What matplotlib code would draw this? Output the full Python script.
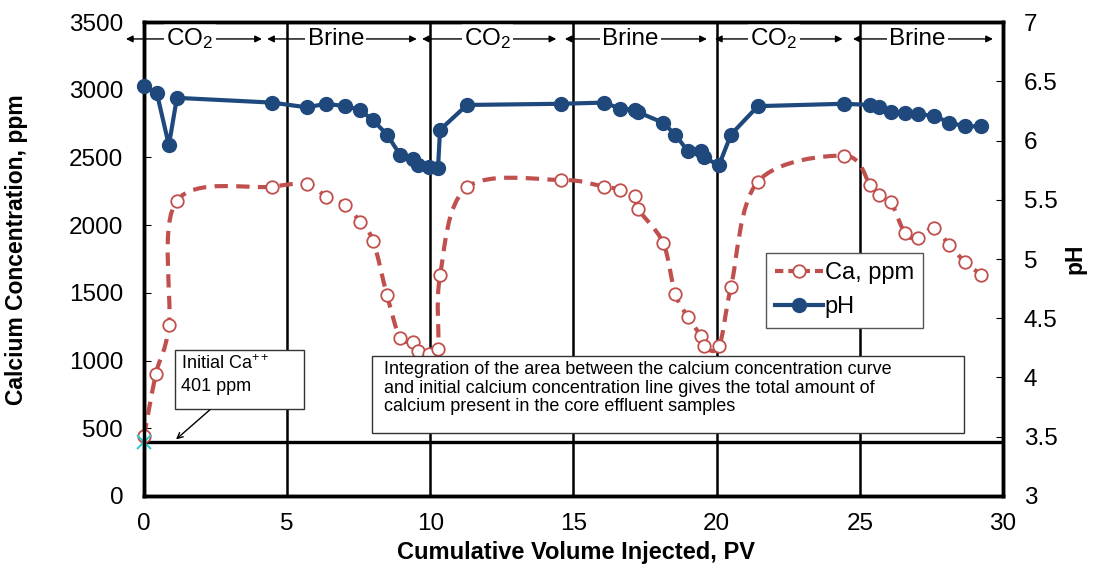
import matplotlib
matplotlib.use("Agg")
import matplotlib.pyplot as plt
import numpy as np
from matplotlib.lines import Line2D
from matplotlib.patches import PathPatch, Rectangle
from matplotlib.path import Path

plt.rcParams["font.family"] = ["Liberation Sans", "DejaVu Sans"]
plt.rcParams["mathtext.fontset"] = "custom"
plt.rcParams["mathtext.rm"] = "Liberation Sans"
plt.rcParams["mathtext.it"] = "Liberation Sans"

RED = "#C0504D"
BLUE = "#1F497D"

# Calcium concentration (ppm) vs cumulative volume injected (PV)
ca_pv = [0.0, 0.42, 0.87, 1.15, 4.47, 5.69, 6.36, 7.02, 7.54, 8.0, 8.49, 8.94,
         9.39, 9.57, 9.95, 10.27, 10.34, 11.28, 14.57, 16.07, 16.63, 17.15, 17.25,
         18.13, 18.55, 19.0, 19.45, 19.55, 20.08, 20.5, 21.44, 24.45, 25.36, 25.67,
         26.09, 26.58, 27.03, 27.59, 28.12, 28.68, 29.23]
ca_ppm = [442, 904, 1260, 2181, 2284, 2304, 2211, 2152, 2026, 1886, 1481, 1170,
          1137, 1069, 1052, 1085, 1629, 2279, 2334, 2284, 2262, 2218, 2120,
          1870, 1494, 1321, 1179, 1105, 1105, 1542, 2321, 2513, 2299, 2223,
          2169, 1940, 1906, 1977, 1855, 1727, 1634]

# pH vs cumulative volume injected (PV)
ph_pv = [0.0, 0.45, 0.87, 1.15, 4.47, 5.69, 6.36, 7.02, 7.54, 8.0, 8.49, 8.94,
         9.39, 9.57, 9.95, 10.27, 10.34, 11.28, 14.57, 16.07, 16.63, 17.15, 17.25,
         18.13, 18.55, 19.0, 19.45, 19.55, 20.08, 20.5, 21.44, 24.45, 25.36, 25.67,
         26.09, 26.58, 27.03, 27.59, 28.12, 28.68, 29.23]
ph_val = [6.46, 6.40, 5.96, 6.36, 6.32, 6.28, 6.31, 6.29, 6.26, 6.17, 6.05, 5.88,
          5.84, 5.79, 5.78, 5.77, 6.09, 6.30, 6.31, 6.32, 6.27, 6.26, 6.24,
          6.15, 6.05, 5.91, 5.91, 5.86, 5.79, 6.05, 6.29, 6.31, 6.30, 6.28,
          6.24, 6.23, 6.22, 6.21, 6.15, 6.12, 6.12]

initial_ca = 401
phase_bounds = [5, 10, 15, 20, 25]
phase_labels = ["CO$_2$", "Brine", "CO$_2$", "Brine", "CO$_2$", "Brine"]
phase_text_x = [1.6, 6.7, 12.0, 17.0, 22.0, 27.0]
phase_arrows = [(-0.63, 4.12), (4.3, 9.53), (9.71, 14.4), (14.7, 19.66),
                (19.94, 24.4), (24.76, 29.65)]


def smooth_path(x, y):
    # Excel-like smoothed line drawn as cubic bezier segments
    pts = np.column_stack([x, y]).astype(float)
    verts = [pts[0]]
    codes = [Path.MOVETO]
    n = len(pts)
    for i in range(n - 1):
        p0 = pts[i - 1] if i > 0 else pts[i]
        p1 = pts[i]
        p2 = pts[i + 1]
        p3 = pts[i + 2] if i + 2 < n else pts[i + 1]
        verts += [p1 + (p2 - p0) / 6, p2 - (p3 - p1) / 6, p2]
        codes += [Path.CURVE4] * 3
    return Path(verts, codes)


fig = plt.figure(figsize=(10.94, 5.66), dpi=100)
ax = fig.add_axes([0.1316, 0.1237, 0.7852, 0.8374])
ax2 = ax.twinx()

# phase boundaries and initial calcium line
for b in phase_bounds:
    ax.axvline(b, color="black", lw=1.8, zorder=1)
ax.axhline(initial_ca, color="black", lw=2.4, zorder=1)

# calcium curve
ax.add_patch(PathPatch(smooth_path(ca_pv, ca_ppm), fill=False, edgecolor=RED,
                       lw=3, linestyle=(0, (3.2, 2.0)), zorder=3))
ax.plot(ca_pv, ca_ppm, linestyle="none", marker="o", ms=9, mfc="white",
        mec=RED, mew=1.3, zorder=4, clip_on=False)
ax.plot([0], [initial_ca], linestyle="none", marker="x", ms=10, mew=1.5,
        color="#33CCCC", zorder=5, clip_on=False)

# pH curve
ax2.plot(ph_pv, ph_val, color=BLUE, lw=3, marker="o", ms=10, zorder=3,
         clip_on=False)

# phase labels with arrows
for (x0, x1), lab, tx in zip(phase_arrows, phase_labels, phase_text_x):
    ax.annotate("", xy=(x0, 3375), xytext=(x1, 3375),
                arrowprops=dict(arrowstyle="<|-|>", color="black", lw=1,
                                mutation_scale=10, shrinkA=0, shrinkB=0),
                annotation_clip=False)
    ax.text(tx, 3375, lab, fontsize=17.5, ha="center", va="center", zorder=6,
            bbox=dict(facecolor="white", edgecolor="none", pad=1.5))

# annotation boxes
ax.add_patch(Rectangle((1.08, 641), 4.51, 435, facecolor="white",
                       edgecolor="#333333", lw=1, zorder=6))
ax.text(1.29, 1045, "Initial Ca$^{++}$\n401 ppm", fontsize=13, va="top",
        ha="left", zorder=7, linespacing=1.35)
ax.annotate("", xy=(1.12, 418), xytext=(2.3, 636),
            arrowprops=dict(arrowstyle="->", color="black", lw=1,
                            shrinkA=0, shrinkB=0), zorder=7)

ax.add_patch(Rectangle((7.96, 464), 20.68, 568, facecolor="white",
                       edgecolor="#333333", lw=1, zorder=6))
ax.text(8.38, 1000, "Integration of the area between the calcium concentration curve\n"
        "and initial calcium concentration line gives the total amount of\n"
        "calcium present in the core effluent samples",
        fontsize=13, va="top", ha="left", zorder=7, linespacing=1.15)

# axes formatting
ax.set_xlim(0, 30)
ax.set_ylim(0, 3500)
ax2.set_ylim(3, 7)
ax.set_xticks(range(0, 31, 5))
ax.set_yticks(range(0, 3501, 500))
ax2.set_yticks(np.arange(3, 7.01, 0.5))
ax2.set_yticklabels(["3", "3.5", "4", "4.5", "5", "5.5", "6", "6.5", "7"])
ax.tick_params(axis="both", direction="in", length=5, labelsize=17.5, pad=15)
ax.tick_params(axis="x", length=0, pad=12)
ax2.tick_params(axis="y", direction="in", length=5, labelsize=17.5, pad=15)
for a in (ax, ax2):
    for s in a.spines.values():
        s.set_linewidth(2.5)

ax.set_xlabel("Cumulative Volume Injected, PV", fontsize=17, fontweight="bold")
ax.xaxis.set_label_coords(0.503, -0.095)
ax.set_ylabel("Calcium Concentration, ppm", fontsize=16.5, fontweight="bold")
ax.yaxis.set_label_coords(-0.135, 0.52)
ax2.set_ylabel("pH", fontsize=16.5, fontweight="bold")
ax2.yaxis.set_label_coords(1.07, 0.5)

handles = [
    Line2D([], [], color=RED, lw=3, linestyle=(0, (2, 1.2)), marker="o", ms=9,
           mfc="white", mec=RED, mew=1.3),
    Line2D([], [], color=BLUE, lw=3, marker="o", ms=10),
]
leg = ax2.legend(handles, ["Ca, ppm", "pH"], loc="upper left",
                 bbox_to_anchor=(0.724, 0.513), fontsize=17, frameon=True,
                 fancybox=False, edgecolor="#555555", framealpha=1,
                 handlelength=2.0, handletextpad=0.1, borderpad=0.4,
                 labelspacing=0.5, borderaxespad=0)
leg.get_frame().set_linewidth(1)

fig.savefig("out.png", dpi=100)
